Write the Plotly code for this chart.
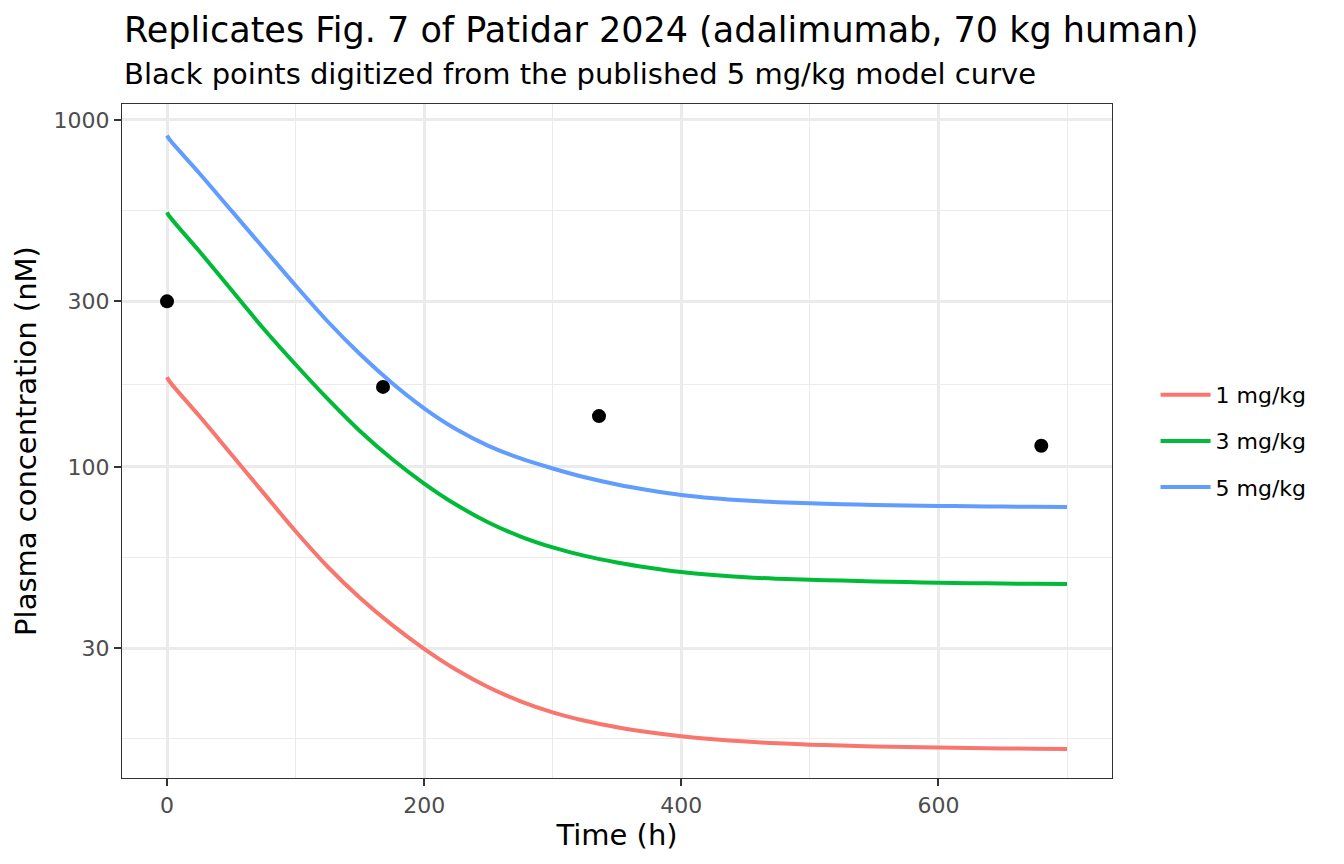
import plotly.graph_objects as go

# model curves (time in h, plasma conc in nM)
time_h = [0, 2, 25, 50, 75, 100, 125, 150, 175, 200, 225, 250, 275, 300, 325,
          350, 375, 400, 425, 450, 475, 500, 525, 550, 575, 600, 625, 650, 675, 700]
conc_1mg = [181.2, 176.2, 140.3, 108.7, 84.1, 65.2, 51.5, 41.9, 35.0, 29.87, 25.98, 23.13,
            21.08, 19.59, 18.52, 17.74, 17.16, 16.71, 16.38, 16.13, 15.95, 15.81, 15.71,
            15.62, 15.56, 15.51, 15.46, 15.42, 15.39, 15.36]
conc_3mg = [541.8, 526.9, 419.0, 324.1, 250.5, 197.2, 156.9, 126.8, 105.3, 89.5, 77.7, 69.1,
            62.95, 58.56, 55.34, 52.97, 51.14, 49.70, 48.72, 48.01, 47.57, 47.26, 46.97,
            46.73, 46.51, 46.32, 46.18, 46.08, 45.98, 45.89]
conc_5mg = [902.2, 878.6, 703.5, 548.3, 427.4, 333.3, 262.4, 211.5, 174.5, 147.5, 128.3, 114.95,
            105.7, 98.9, 93.27, 88.9, 85.55, 82.9, 81.13, 79.90, 79.05, 78.48, 78.01,
            77.65, 77.36, 77.13, 76.95, 76.80, 76.68, 76.57]

obs_time = [0, 168, 336, 680]
obs_conc = [300, 170, 140, 115]

dose_labels = ["1 mg/kg", "3 mg/kg", "5 mg/kg"]
dose_colors = ["#F8766D", "#00BA38", "#619CFF"]

y_ticks = [30, 100, 300, 1000]
y_minor = [16.43, 54.77, 173.2, 547.7]
x_ticks = [0, 200, 400, 600]
x_minor = [100, 300, 500, 700]

FONT = "DejaVu Sans"

fig = go.Figure()
for i, conc in enumerate([conc_1mg, conc_3mg, conc_5mg]):
    fig.add_trace(go.Scatter(
        x=time_h, y=conc, mode="lines", name=dose_labels[i],
        legendgroup=dose_labels[i],
        line=dict(color=dose_colors[i], width=4, shape="spline", smoothing=1.0),
    ))

fig.add_trace(go.Scatter(
    x=obs_time, y=obs_conc, mode="markers", showlegend=False,
    marker=dict(color="black", size=14),
))

axis_common = dict(
    showline=True, mirror=True, linecolor="#333333", linewidth=1.3,
    ticks="outside", ticklen=7, tickwidth=1.6, tickcolor="#333333",
    tickfont=dict(family=FONT, size=22, color="#4D4D4D"),
    gridcolor="#EBEBEB", gridwidth=2.6, zeroline=False,
)

fig.update_xaxes(
    range=[-35, 735], tickmode="array", tickvals=x_ticks,
    minor=dict(tickmode="array", tickvals=x_minor, showgrid=True,
               gridcolor="#EBEBEB", gridwidth=1.3),
    title=dict(text="Time (h)", font=dict(family=FONT, size=29, color="black"), standoff=3),
    **axis_common,
)
fig.update_yaxes(
    type="log", range=[1.1027, 3.0461], tickmode="array", tickvals=y_ticks,
    ticktext=[str(v) for v in y_ticks],
    minor=dict(tickmode="array", tickvals=y_minor, showgrid=True,
               gridcolor="#EBEBEB", gridwidth=1.3),
    title=dict(text="Plasma concentration (nM)", font=dict(family=FONT, size=29, color="black"),
               standoff=8),
    **axis_common,
)

fig.add_annotation(
    text="Replicates Fig. 7 of Patidar 2024 (adalimumab, 70 kg human)",
    xref="paper", yref="paper", x=0, y=1.1098, xanchor="left", yanchor="middle",
    showarrow=False, font=dict(family=FONT, size=35, color="black"),
)
fig.add_annotation(
    text="Black points digitized from the published 5 mg/kg model curve",
    xref="paper", yref="paper", x=0, y=1.0445, xanchor="left", yanchor="middle",
    showarrow=False, font=dict(family=FONT, size=29, color="black"),
)

# page body has an 8px margin, so the figure is 8px smaller than the window
fig.update_layout(
    width=1336, height=856,
    margin=dict(l=114, r=232, t=96, b=86),
    paper_bgcolor="white", plot_bgcolor="white",
    font=dict(family=FONT, color="black"),
    legend=dict(
        x=1.044, y=0.5, xanchor="left", yanchor="middle",
        font=dict(family=FONT, size=22, color="black"),
        traceorder="grouped", tracegroupgap=14.5, itemwidth=50,
        bgcolor="rgba(0,0,0,0)",
    ),
)

fig.write_html("out.html")
